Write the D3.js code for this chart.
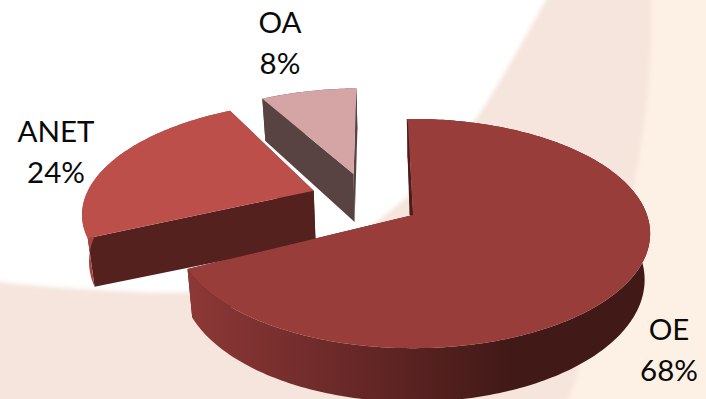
<!DOCTYPE html>
<html>
<head>
<meta charset="utf-8">
<script src="https://cdnjs.cloudflare.com/ajax/libs/d3/7.8.5/d3.min.js"></script>
<style>
html,body{margin:0;padding:0;background:#fff;overflow:hidden}
svg{display:block}
text{font-family:Lato,"Open Sans",sans-serif;font-size:29.5px;fill:#0a0a0a;text-anchor:middle}
</style>
</head>
<body>
<script>
// Shares shown on the exploded pie
const categories = ["OE", "ANET", "OA"];
const shares = [68, 24, 8];

// Slice colours: top face, radial wall, outer wall
const topColors = ["#993d3a", "#bd4f4b", "#d5a5a5"];
const wallColors = ["#431a18", "#54211f", "#584342"];
const rimColors = ["url(#oeRim)", "#a5433f", "#584342"];

// Ground-plane offset, extra rotation (degrees) and wall height of each slice
const offsets = [[0, 0], [-0.44, 0.225], [-0.27, 0.39]];
const turns = [0, 1.5, 0];
const depths = [45, 47, 51];
const apexExtra = [0, 6, 0];

// Label anchors beside the pie
const labelAnchors = [[669, 340], [56, 142], [280, 33]];

// Decorative backdrop outlines
const bandOutline = [[651,-20],[650,60],[640,150],[622,230],[590,320],[548,420],[-20,420],[-20,-20]];
const whiteOutline = [[557,-20],[515,55],[475,120],[425,180],[350,240],[270,278],[190,292],[100,290],[0,282],[-20,278],[-20,-20]];

const W = 706, H = 399;
const svg = d3.select("body").append("svg").attr("width", W).attr("height", H);
const defs = svg.append("defs");

defs.append("filter").attr("id", "soft")
  .attr("x", "-5%").attr("y", "-5%").attr("width", "110%").attr("height", "110%")
  .append("feGaussianBlur").attr("stdDeviation", 2);

const oeGrad = defs.append("linearGradient").attr("id", "oeRim")
  .attr("gradientUnits", "userSpaceOnUse")
  .attr("x1", 190).attr("x2", 510).attr("y1", 0).attr("y2", 0);
[[0, "#8c3836"], [0.45, "#6c2a29"], [1, "#411917"]].forEach(([o, c]) =>
  oeGrad.append("stop").attr("offset", o).attr("stop-color", c));

// Backdrop
svg.append("rect").attr("width", W).attr("height", H).attr("fill", "#fdf0e4");
const outline = d3.line().curve(d3.curveCatmullRom);
svg.append("path").attr("d", outline(bandOutline) + "Z").attr("fill", "#f5e5dc").attr("filter", "url(#soft)");
svg.append("path").attr("d", outline(whiteOutline) + "Z").attr("fill", "#ffffff").attr("filter", "url(#soft)");

// Perspective projection of the pie's ground plane onto the page
const cx = 413, cy = 215, rx = 234, ry = 111.6, persp = 0.162;
const converge = 0.022, convergeX = 400;

function project(X, Y, depth) {
  const s = 1 / (1 + persp * Y);
  const x = cx + rx * X * s;
  const y = cy - ry * Y * s;
  if (!depth) return [x, y];
  return [x + (convergeX - x) * converge, y + depth * s];
}
const rimPoint = (off, a, depth) => project(off[0] + Math.sin(a), off[1] + Math.cos(a), depth);

const pie = d3.pie().sort(null).startAngle(-1.5 * Math.PI / 180)
  .endAngle(-1.5 * Math.PI / 180 + 2 * Math.PI);
const arcs = pie(shares);
const poly = d3.line();

// Painted back to front so nearer slices cover farther ones
[2, 1, 0].forEach(i => {
  const d = arcs[i], off = offsets[i], h = depths[i];
  const turn = turns[i] * Math.PI / 180;
  const a0 = d.startAngle + turn, a1 = d.endAngle + turn;
  const angles = d3.range(a0, a1, Math.PI / 180).concat(a1);
  const rimTop = angles.map(a => rimPoint(off, a, 0));
  const rimBottom = angles.map(a => rimPoint(off, a, h));
  const apexTop = project(off[0], off[1], 0);
  const apexBottom = project(off[0], off[1], h + apexExtra[i]);
  const g = svg.append("g").attr("class", "slice-" + categories[i]);

  // Radial walls on both cut faces
  [0, angles.length - 1].forEach(k => {
    g.append("path")
      .attr("d", poly([apexTop, rimTop[k], rimBottom[k], apexBottom]) + "Z")
      .attr("fill", wallColors[i]);
  });
  // Outer curved wall
  g.append("path")
    .attr("d", poly(rimTop.concat(rimBottom.slice().reverse())) + "Z")
    .attr("fill", rimColors[i]);

  // The thin edge of the cut face seen beside the largest slice
  if (i === 0) {
    g.append("path")
      .attr("d", poly([rimTop[0], apexTop, [apexTop[0] - 3.5, apexTop[1]], [rimTop[0][0] - 1, rimTop[0][1]]]) + "Z")
      .attr("fill", "#4a1c1b");
  }
  // Top face
  g.append("path")
    .attr("d", poly([apexTop].concat(rimTop)) + "Z")
    .attr("fill", topColors[i]);
});

// Category and percentage labels
const lineGap = 41;
const labels = svg.append("g");
categories.forEach((name, i) => {
  const [lx, ly] = labelAnchors[i];
  labels.append("text").attr("x", lx).attr("y", ly).text(name);
  labels.append("text").attr("x", lx).attr("y", ly + lineGap).text(shares[i] + "%");
});
</script>
</body>
</html>
